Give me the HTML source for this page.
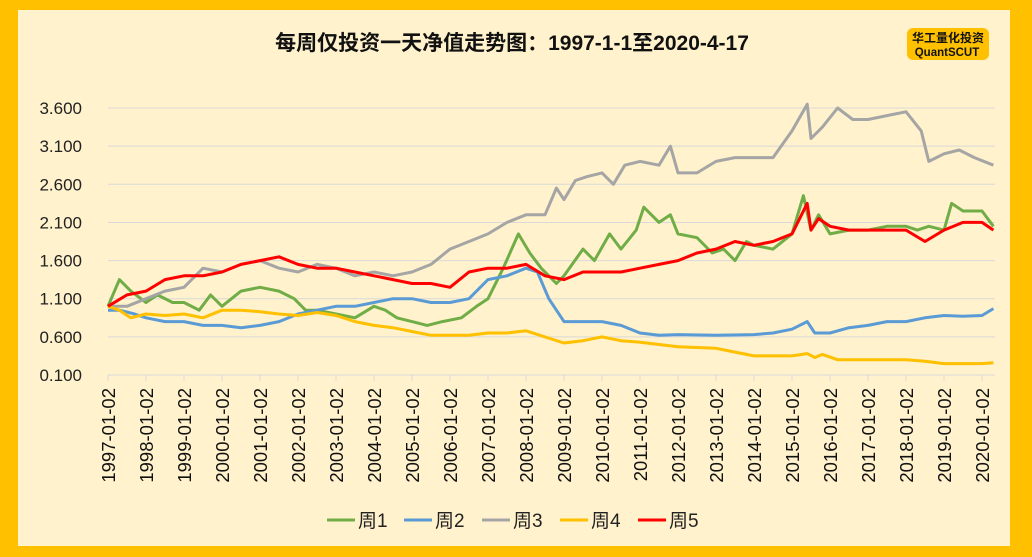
<!DOCTYPE html>
<html><head><meta charset="utf-8">
<style>
body{margin:0;width:1032px;height:557px;background:#FFC000;overflow:hidden;font-family:"Liberation Sans","Noto Sans CJK SC",sans-serif;}
#card{position:absolute;left:18px;top:10px;width:992px;height:536px;background:#FFF2CC;}
</style></head><body>
<div id="card"></div>
<svg id="chart" width="1032" height="557" style="position:absolute;left:0;top:0">
<text x="512" y="50" text-anchor="middle" font-size="21" font-weight="bold" fill="#111" font-family="Liberation Sans, Noto Sans CJK SC, sans-serif">每周仅投资一天净值走势图：1997-1-1至2020-4-17</text>
<g>
<rect x="907" y="28" width="82" height="32" rx="6" fill="#FFC000"/>
<text x="948" y="42" text-anchor="middle" font-size="12" font-weight="bold" fill="#111" font-family="Liberation Sans, Noto Sans CJK SC, sans-serif">华工量化投资</text>
<text x="947" y="56" text-anchor="middle" font-size="11.5" font-weight="bold" fill="#111">QuantSCUT</text>
</g>
<g id="grid"></g><g id="yaxis"></g><g id="xaxis"></g><g id="series"></g><g id="legend"></g>
</svg>
<script>
const yTicks=[0.1,0.6,1.1,1.6,2.1,2.6,3.1,3.6];
const xYears=[1997,1998,1999,2000,2001,2002,2003,2004,2005,2006,2007,2008,2009,2010,2011,2012,2013,2014,2015,2016,2017,2018,2019,2020];
const seriesNames=["周1","周2","周3","周4","周5"];
const s1T=[1997,1997.3,1997.6,1998,1998.3,1998.7,1999,1999.4,1999.7,2000,2000.5,2001,2001.5,2001.9,2002.2,2002.5,2003,2003.5,2004,2004.3,2004.6,2005,2005.4,2005.8,2006.3,2006.7,2007,2007.4,2007.8,2008.1,2008.4,2008.8,2009,2009.5,2009.8,2010.2,2010.5,2010.9,2011.1,2011.5,2011.8,2012,2012.5,2012.9,2013.2,2013.5,2013.8,2014,2014.5,2015,2015.3,2015.5,2015.7,2016,2016.5,2017,2017.5,2018,2018.3,2018.6,2019,2019.2,2019.5,2020,2020.3];
const s1V=[1.0,1.35,1.2,1.05,1.15,1.05,1.05,0.95,1.15,1.0,1.2,1.25,1.2,1.1,0.95,0.95,0.9,0.85,1.0,0.95,0.85,0.8,0.75,0.8,0.85,1.0,1.1,1.5,1.95,1.7,1.5,1.3,1.4,1.75,1.6,1.95,1.75,2.0,2.3,2.1,2.2,1.95,1.9,1.7,1.75,1.6,1.85,1.8,1.75,1.95,2.45,2.0,2.2,1.95,2.0,2.0,2.05,2.05,2.0,2.05,2.0,2.35,2.25,2.25,2.05];
const s2T=[1997,1997.3,1997.7,1998,1998.5,1999,1999.5,2000,2000.5,2001,2001.5,2002,2002.5,2003,2003.5,2004,2004.5,2005,2005.5,2006,2006.5,2007,2007.5,2008,2008.3,2008.6,2009,2009.5,2010,2010.5,2011,2011.5,2012,2013,2014,2014.5,2015,2015.4,2015.6,2016,2016.5,2017,2017.5,2018,2018.5,2019,2019.5,2020,2020.3];
const s2V=[0.95,0.95,0.9,0.85,0.8,0.8,0.75,0.75,0.72,0.75,0.8,0.9,0.95,1.0,1.0,1.05,1.1,1.1,1.05,1.05,1.1,1.35,1.4,1.5,1.45,1.1,0.8,0.8,0.8,0.75,0.65,0.62,0.63,0.62,0.63,0.65,0.7,0.8,0.65,0.65,0.72,0.75,0.8,0.8,0.85,0.88,0.87,0.88,0.97];
const s3T=[1997,1997.5,1998,1998.5,1999,1999.5,2000,2000.5,2001,2001.5,2002,2002.5,2003,2003.5,2004,2004.5,2005,2005.5,2006,2006.5,2007,2007.5,2008,2008.5,2008.8,2009,2009.3,2009.6,2010,2010.3,2010.6,2011,2011.5,2011.8,2012,2012.5,2013,2013.5,2014,2014.5,2015,2015.4,2015.5,2015.8,2016.2,2016.6,2017,2017.5,2018,2018.4,2018.6,2019,2019.4,2019.8,2020.3];
const s3V=[1.0,1.0,1.1,1.2,1.25,1.5,1.45,1.55,1.6,1.5,1.45,1.55,1.5,1.4,1.45,1.4,1.45,1.55,1.75,1.85,1.95,2.1,2.2,2.2,2.55,2.4,2.65,2.7,2.75,2.6,2.85,2.9,2.85,3.1,2.75,2.75,2.9,2.95,2.95,2.95,3.3,3.65,3.2,3.35,3.6,3.45,3.45,3.5,3.55,3.3,2.9,3.0,3.05,2.95,2.85];
const s4T=[1997,1997.3,1997.6,1998,1998.5,1999,1999.5,2000,2000.5,2001,2001.5,2002,2002.5,2003,2003.5,2004,2004.5,2005,2005.5,2006,2006.5,2007,2007.5,2008,2008.5,2009,2009.5,2010,2010.5,2011,2011.5,2012,2013,2013.5,2014,2015,2015.4,2015.6,2015.8,2016.2,2017,2018,2018.5,2019,2020,2020.3];
const s4V=[1.0,0.95,0.85,0.9,0.88,0.9,0.85,0.95,0.95,0.93,0.9,0.88,0.92,0.88,0.8,0.75,0.72,0.67,0.62,0.62,0.62,0.65,0.65,0.68,0.6,0.52,0.55,0.6,0.55,0.53,0.5,0.47,0.45,0.4,0.35,0.35,0.38,0.33,0.37,0.3,0.3,0.3,0.28,0.25,0.25,0.26];
const s5T=[1997,1997.5,1998,1998.5,1999,1999.5,2000,2000.5,2001,2001.5,2002,2002.5,2003,2003.5,2004,2004.5,2005,2005.5,2006,2006.5,2007,2007.5,2008,2008.5,2009,2009.5,2010,2010.5,2011,2011.5,2012,2012.5,2013,2013.5,2014,2014.5,2015,2015.4,2015.5,2015.7,2016,2016.5,2017,2017.5,2018,2018.5,2019,2019.5,2020,2020.3];
const s5V=[1.0,1.15,1.2,1.35,1.4,1.4,1.45,1.55,1.6,1.65,1.55,1.5,1.5,1.45,1.4,1.35,1.3,1.3,1.25,1.45,1.5,1.5,1.55,1.4,1.35,1.45,1.45,1.45,1.5,1.55,1.6,1.7,1.75,1.85,1.8,1.85,1.95,2.35,2.0,2.15,2.05,2.0,2.0,2.0,2.0,1.85,2.0,2.1,2.1,2.0];
const colors=["#70AD47","#5B9BD5","#A5A5A5","#FFC000","#FF0000"];
const NS="http://www.w3.org/2000/svg";
const X0=108,X1=995,Y0=375,PX_YEAR=38.0,PX_UNIT=76.28;
function xs(t){return X0+(t-1997)*PX_YEAR;}
function ys(v){return Y0-(v-0.1)*PX_UNIT;}
function mk(tag,attrs,parent){const e=document.createElementNS(NS,tag);for(const k in attrs)e.setAttribute(k,attrs[k]);parent.appendChild(e);return e;}
const grid=document.getElementById('grid'),ya=document.getElementById('yaxis'),xa=document.getElementById('xaxis');
yTicks.forEach(v=>{
 const l=mk('line',{x1:X0,x2:X1,y1:ys(v),y2:ys(v),stroke:'#D9D9D9','stroke-width':1},grid);
 
 
 const t=mk('text',{x:82,y:ys(v)+6,'text-anchor':'end','font-size':17,fill:'#222'},ya);
 t.textContent=v.toFixed(3);
 
 
});
xYears.forEach(yr=>{
 const x=xs(yr);
 const tk=mk('line',{x1:x,x2:x,y1:Y0,y2:Y0+6,stroke:'#D9D9D9'},xa);
 
 
 const t=mk('text',{x:0,y:0,'text-anchor':'end','font-size':18.5,fill:'#111',transform:`translate(${x+7},388) rotate(-90)`},xa);
 t.textContent=yr+'-01-02';
 
 
});
const sT=[s1T,s2T,s3T,s4T,s5T],sV=[s1V,s2V,s3V,s4V,s5V];
const sg=document.getElementById('series');
[0,1,2,3,4].forEach(i=>{
 const d=sT[i].map((t,j)=>(j?'L':'M')+xs(t).toFixed(1)+','+ys(sV[i][j]).toFixed(1)).join('');
 const p=mk('path',{d:d,fill:'none',stroke:colors[i],'stroke-width':3,'stroke-linejoin':'round'},sg);
 
 
});
const lg=document.getElementById('legend');
const lx=[327,404,482,560,638];
seriesNames.forEach((n,i)=>{
 const g=mk('g',{},lg);
 
 
 mk('line',{x1:lx[i],x2:lx[i]+28,y1:520,y2:520,stroke:colors[i],'stroke-width':3},g);
 const t=mk('text',{x:lx[i]+31,y:527,'font-size':19,fill:'#222'},g);
 t.textContent=n;
});
</script>
</body></html>
